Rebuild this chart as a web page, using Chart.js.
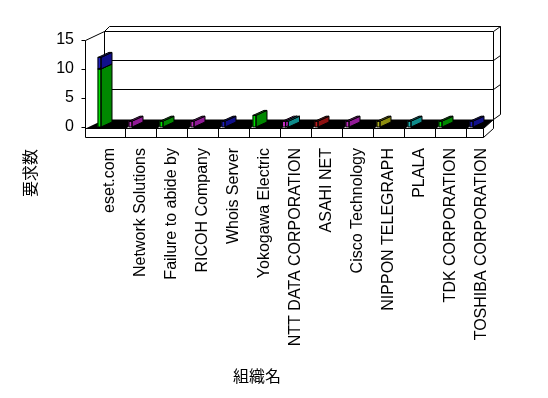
<!DOCTYPE html>
<html>
<head>
<meta charset="utf-8">
<script src="https://cdn.jsdelivr.net/npm/chart.js@4.4.1/dist/chart.umd.min.js"></script>
<style>
  html, body { margin: 0; padding: 0; background: #fff; }
  #wrap { width: 548px; height: 398px; }
</style>
</head>
<body>
<div id="wrap"><canvas id="chart" width="548" height="398"></canvas></div>
<script>
const categories = ["eset.com", "Network Solutions", "Failure to abide by", "RICOH Company", "Whois Server",
    "Yokogawa Electric", "NTT DATA CORPORATION", "ASAHI NET", "Cisco Technology", "NIPPON TELEGRAPH",
    "PLALA", "TDK CORPORATION", "TOSHIBA CORPORATION"];
const greenValues  = [10, null, 1, null, null, 2, null, null, null, null, null, 1, null];
const blueValues   = [2, null, null, null, 1, null, null, null, null, null, null, null, 1];
const purpleValues = [null, 1, null, 1, null, null, 1, null, 1, null, null, null, null];
const tealValues   = [null, null, null, null, null, null, 1, null, null, null, 1, null, null];
const redValues    = [null, null, null, null, null, null, null, 1, null, null, null, null, null];
const oliveValues  = [null, null, null, null, null, null, null, null, null, 1, null, null, null];
const yTicks = [0, 5, 10, 15];

const yTitle = "要求数";
const xTitle = "組織名";

const LABEL_OFF = 10;   // labels sit right of the bars' front edge
const DEPTH = [20, -9]; // wall depth
const BAR_D = [11, -5]; // bar depth

const series = (label, data, front, side, stack) => ({
    label, data, stack,
    backgroundColor: front,
    sideColor: side,
    borderWidth: 0,
    barThickness: 3,
});

// walls, floor and the front floor strip
const frame3d = {
    id: "frame3d",
    beforeDatasetsDraw(chart) {
        const { ctx, chartArea: a, scales: { x, y } } = chart;
        const L = a.left, R = a.right, T = a.top, B = a.bottom;
        const [dx, dy] = DEPTH;
        const W = (R - L) / categories.length;
        const line = (pts, close) => {
            ctx.beginPath();
            pts.forEach(([px, py], i) => i ? ctx.lineTo(px + 0.5, py + 0.5) : ctx.moveTo(px + 0.5, py + 0.5));
            if (close) ctx.closePath();
        };
        ctx.save();
        ctx.strokeStyle = "#000";
        ctx.lineWidth = 1;

        // back wall (with a little thickness)
        line([[L + dx + 5, T + dy - 5], [R + 13, T + dy - 5], [R + 13, B + dy - 4], [R + 6, B + dy + 1]]);
        ctx.stroke();
        line([[L + 1, T], [L + dx, T + dy], [R + 6, T + dy], [R + 6, B + dy + 1]]);
        ctx.stroke();
        line([[L + dx, T + dy], [L + dx + 5, T + dy - 5]]);
        ctx.stroke();
        line([[R + 6, T + dy], [R + 13, T + dy - 5]]);
        ctx.stroke();
        line([[L + dx, T + dy], [L + dx, B + dy]]);
        ctx.stroke();
        yTicks.forEach(v => {
            const py = Math.round(y.getPixelForValue(v));
            if (v > 0 && v < 15) {
                line([[L + dx, py + dy], [R + 6, py + dy], [R + 13, py + dy - 5]]);
                ctx.stroke();
            }
            line([[L - 3, py], [L + 1, py]]);
            ctx.stroke();
        });

        // floor top
        ctx.fillStyle = "#000";
        line([[L + 1, B + 1], [R - 4, B + 1], [R + 6, B + dy + 1], [L + dx, B + dy + 1]], true);
        ctx.fill();
        ctx.fillStyle = "#fff";
        for (let i = 0; i < categories.length - 1; i++) {
            const xb = Math.round(x.getPixelForValue(i) + LABEL_OFF + W / 2);
            line([[xb + 1, B + 1], [xb + 5, B + 1], [xb + 13, B - 6], [xb + 9, B - 6]], true);
            ctx.fill();
        }

        // floor front strip
        ctx.fillStyle = "#fff";
        ctx.fillRect(L + 1, B + 1, R - L - 5, 9);
        line([[L + 1, T], [L + 1, B + 10], [R - 4, B + 10], [R - 4, B + 1], [L + 1, B + 1]]);
        ctx.stroke();
        line([[R - 4, B + 10], [R + 6, B + 1], [R + 6, B + dy + 1], [R - 4, B + 1]]);
        ctx.stroke();
        for (let i = 0; i < categories.length - 1; i++) {
            const xb = Math.round(x.getPixelForValue(i) + LABEL_OFF + W / 2);
            line([[xb, B + 1], [xb, B + 10]]);
            ctx.stroke();
        }
        ctx.restore();
    },
    afterDatasetsDraw(chart) {
        const { ctx } = chart;
        const [bx, by] = BAR_D;
        ctx.save();
        ctx.strokeStyle = "#000";
        ctx.lineWidth = 1;
        chart.data.datasets.forEach((ds, di) => {
            const meta = chart.getDatasetMeta(di);
            meta.data.forEach((el, i) => {
                if (ds.data[i] == null) return;
                const { x, y, base, width } = el.getProps(["x", "y", "base", "width"], true);
                const l = x - width / 2, r = x + width / 2;
                ctx.fillStyle = ds.sideColor;
                ctx.beginPath();
                ctx.moveTo(r, y); ctx.lineTo(r + bx, y + by); ctx.lineTo(r + bx, base + by); ctx.lineTo(r, base);
                ctx.closePath();
                ctx.fill(); ctx.stroke();
                ctx.beginPath();
                ctx.moveTo(l, y); ctx.lineTo(r, y); ctx.lineTo(r + bx, y + by); ctx.lineTo(l + bx, y + by);
                ctx.closePath();
                ctx.fill(); ctx.stroke();
                ctx.strokeRect(l, y, width, base - y);
            });
        });
        ctx.restore();
    },
    afterDraw(chart) {
        const { ctx } = chart;
        ctx.save();
        ctx.fillStyle = "#000";
        ctx.font = '16px "Noto Sans CJK JP"';
        ctx.textAlign = "center";
        ctx.textBaseline = "middle";
        ctx.fillText(xTitle, 257, 376);
        ctx.translate(30, 173);
        ctx.rotate(-Math.PI / 2);
        ctx.fillText(yTitle, 0, 0);
        ctx.restore();
    }
};

new Chart(document.getElementById("chart"), {
    type: "bar",
    data: {
        labels: categories,
        datasets: [
            series("green", greenValues, "#00e000", "#008800", "a"),
            series("blue", blueValues, "#2020c0", "#10108a", "a"),
            series("purple", purpleValues, "#c030c0", "#901a96", "b"),
            series("teal", tealValues, "#20b0b0", "#108c8c", "c"),
            series("red", redValues, "#c02020", "#8c1010", "d"),
            series("olive", oliveValues, "#b0b020", "#8c8c10", "e"),
        ],
    },
    options: {
        responsive: false,
        animation: false,
        skipNull: true,
        categoryPercentage: 0.5,
        layout: { padding: { top: 40, right: 61, bottom: 0, left: 0 } },
        plugins: {
            legend: { display: false },
            tooltip: { enabled: false },
        },
        scales: {
            x: {
                grid: { display: false, drawTicks: false },
                border: { display: false },
                afterFit: s => { s.height = 271; },
                ticks: {
                    minRotation: 90,
                    maxRotation: 90,
                    autoSkip: false,
                    padding: 21,
                    labelOffset: LABEL_OFF,
                    color: "#000",
                    font: { family: "Liberation Sans", size: 16 },
                },
            },
            y: {
                stacked: true,
                min: 0,
                max: 15,
                grid: { display: false, drawTicks: false },
                border: { display: false },
                afterFit: s => { s.width = 84; },
                ticks: {
                    stepSize: 5,
                    padding: 10,
                    color: "#000",
                    font: { family: "Liberation Sans", size: 16 },
                },
            },
        },
    },
    plugins: [frame3d],
});
</script>
</body>
</html>
